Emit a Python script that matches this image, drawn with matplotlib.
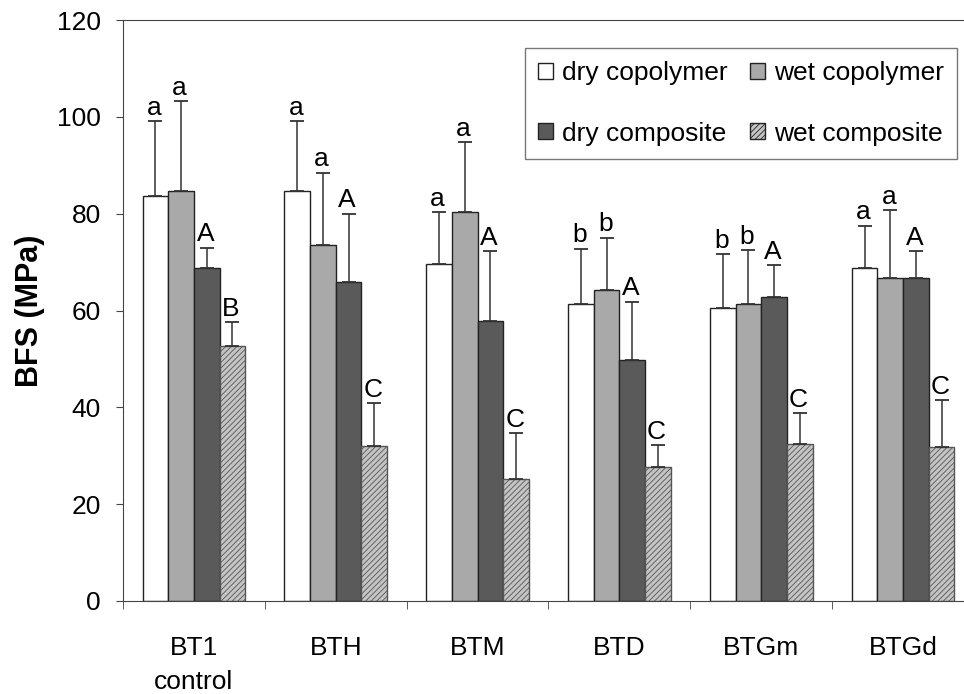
import numpy as np
import matplotlib.pyplot as plt

plt.rcParams['font.family'] = ['Liberation Sans', 'DejaVu Sans']
plt.rcParams['hatch.linewidth'] = 0.6

groups = ["BT1\ncontrol", "BTH", "BTM", "BTD", "BTGm", "BTGd"]
series = ["dry copolymer", "wet copolymer", "dry composite", "wet composite"]

dry_copolymer = [83.6, 84.7, 69.6, 61.4, 60.5, 68.7]
wet_copolymer = [84.7, 73.5, 80.3, 64.3, 61.4, 66.8]
dry_composite = [68.7, 65.9, 57.8, 49.7, 62.7, 66.8]
wet_composite = [52.6, 32.1, 25.1, 27.7, 32.4, 31.8]

dry_copolymer_sd = [15.5, 14.4, 10.7, 11.4, 11.1, 8.8]
wet_copolymer_sd = [18.5, 15.0, 14.5, 10.7, 11.1, 13.9]
dry_composite_sd = [4.3, 14.1, 14.4, 12.1, 6.7, 5.4]
wet_composite_sd = [5.0, 8.7, 9.5, 4.5, 6.4, 9.7]

dry_copolymer_lbl = ["a", "a", "a", "b", "b", "a"]
wet_copolymer_lbl = ["a", "a", "a", "b", "b", "a"]
dry_composite_lbl = ["A", "A", "A", "A", "A", "A"]
wet_composite_lbl = ["B", "C", "C", "C", "C", "C"]

means = [dry_copolymer, wet_copolymer, dry_composite, wet_composite]
sds = [dry_copolymer_sd, wet_copolymer_sd, dry_composite_sd, wet_composite_sd]
letters = [dry_copolymer_lbl, wet_copolymer_lbl, dry_composite_lbl, wet_composite_lbl]
colors = ["white", "#a9a9a9", "#5a5a5a", "#c4c4c4"]
hatches = [None, None, None, "//////"]

fig = plt.figure(figsize=(9.64, 6.94), dpi=100)
ax = fig.add_axes([123 / 964, 93 / 694, 851 / 964, 581 / 694])

x = np.arange(len(groups))
w = 0.181
for i in range(4):
    pos = x + (i - 1.5) * w
    ax.bar(pos, means[i], width=w, color=colors[i], edgecolor="#222222",
           linewidth=1.0, hatch=hatches[i], zorder=2)
    ax.errorbar(pos, means[i], yerr=[np.zeros(len(groups)), sds[i]], fmt="none",
                ecolor="#333333", elinewidth=1.1, capsize=5, capthick=1.3, zorder=3)
    for xp, m, s, t in zip(pos, means[i], sds[i], letters[i]):
        ax.text(xp - 0.01, m + s + 0.3, t, ha="center", va="bottom", fontsize=19)

# hatch colour for the wet composite bars
for p in ax.patches:
    if p.get_hatch():
        p.set_edgecolor("#555555")

ax.set_xlim(-0.5, 5.5)
ax.set_ylim(0, 120)
ax.set_yticks(range(0, 121, 20))
ax.set_xticks(x)
ax.set_xticklabels(groups, fontsize=19, linespacing=1.55)
ax.set_xticks(np.arange(-0.5, 5.5, 1), minor=True)
ax.tick_params(axis="x", which="major", length=0, pad=25)
ax.tick_params(axis="x", which="minor", length=6, direction="out", color="#444444")
ax.tick_params(axis="y", labelsize=19, length=5, direction="out", pad=11, color="#444444")
ax.set_ylabel("BFS (MPa)", fontsize=22, fontweight="bold")
ax.yaxis.set_label_coords(-78 / 851, 0.5)
for s in ax.spines.values():
    s.set_color("#444444")

handles = [plt.Rectangle((0, 0), 1, 1, facecolor=colors[i], edgecolor="#222222",
                         hatch=hatches[i]) for i in range(4)]
order = [0, 2, 1, 3]
leg = ax.legend([handles[k] for k in order], [series[k] for k in order], ncol=2,
                loc="upper right", bbox_to_anchor=((957 - 123) / 851, 1 - 28 / 581),
                fontsize=19, frameon=True, fancybox=False, edgecolor="#555555",
                handlelength=0.55, handleheight=0.55, handletextpad=0.35,
                columnspacing=0.85, labelspacing=1.38, borderpad=0.5,
                borderaxespad=0)
leg.get_frame().set_linewidth(1.0)

fig.savefig("out.png", dpi=100)
